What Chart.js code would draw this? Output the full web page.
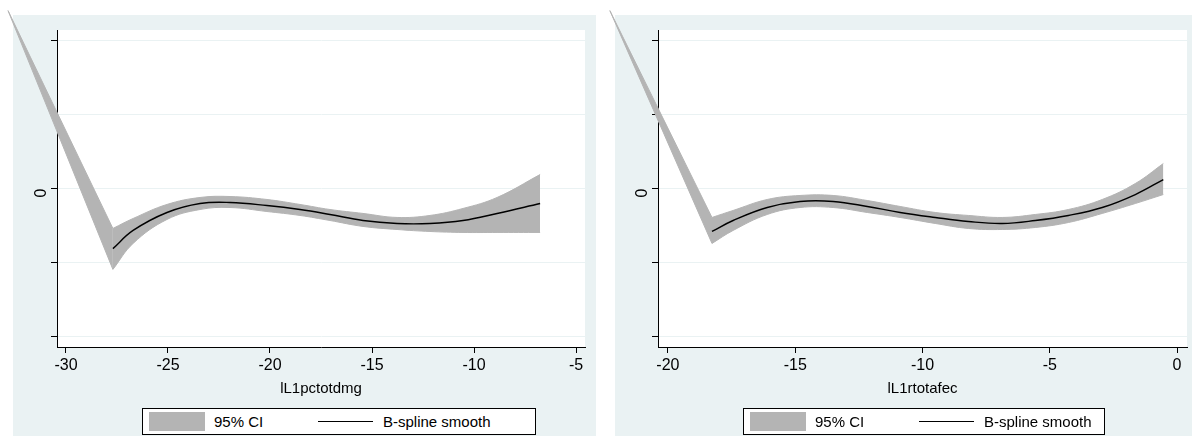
<!DOCTYPE html>
<html lang="en">
<head>
    <meta charset="UTF-8">
    <title>B-spline smooth</title>
    <script src="https://cdn.jsdelivr.net/npm/chart.js"></script>
    <style>
        body { margin: 0; background: #fff; font-family: "Liberation Sans", Arial, sans-serif; }
        #page { position: relative; width: 1192px; height: 436px; overflow: hidden; }
        .panel { position: absolute; top: 15px; height: 421px; background: #eaf2f3; }
        canvas { position: absolute; top: 0; }
        .legend { position: absolute; top: 408px; height: 25px; background: #fff; border: 1px solid #000; font-size: 15px; color: #000; }
        .legend .swatch { position: absolute; left: 6px; top: 3px; width: 56px; height: 19px; background: #b4b4b4; }
        .legend .ln { position: absolute; left: 175px; top: 12px; width: 55px; border-top: 1.5px solid #000; }
        .legend .lbl { position: absolute; top: 4px; line-height: 17px; white-space: nowrap; }
    </style>
</head>
<body>
<div id="page">
    <div class="panel" style="left:13px; width:583px;"></div>
    <div class="panel" style="left:615px; width:577px;"></div>
    <canvas id="leftChart" width="600" height="436" style="left:0;"></canvas>
    <canvas id="rightChart" width="592" height="436" style="left:600px;"></canvas>
    <div class="legend" style="left:142px; width:392px;">
        <span class="swatch"></span><span class="lbl" style="left:71px;">95% CI</span>
        <span class="ln"></span><span class="lbl" style="left:240px;">B-spline smooth</span>
    </div>
    <div class="legend" style="left:743px; width:360px;">
        <span class="swatch"></span><span class="lbl" style="left:71px;">95% CI</span>
        <span class="ln"></span><span class="lbl" style="left:240px;">B-spline smooth</span>
    </div>
</div>

<script>
    // y ticks (only 0 is labelled in the original)
    const yTicks = [-2, -1, 0, 1, 2];

    // left panel: lL1pctotdmg
    const leftXTicks = [-30, -25, -20, -15, -10, -5];
    const leftX     = [-27.70, -26.71, -25.05, -23.43, -21.96, -20.15, -18.53, -17.06, -15.44, -13.77, -12.16, -10.54, -8.87, -6.76];
    const leftFit   = [-0.810, -0.565, -0.323, -0.202, -0.188, -0.229, -0.283, -0.350, -0.431, -0.471, -0.471, -0.431, -0.336, -0.202];
    const leftUpper = [-0.538, -0.404, -0.215, -0.121, -0.108, -0.148, -0.215, -0.283, -0.336, -0.390, -0.363, -0.269, -0.121, 0.188];
    const leftLower = [-1.090, -0.740, -0.417, -0.283, -0.256, -0.310, -0.363, -0.431, -0.511, -0.552, -0.579, -0.592, -0.592, -0.592];
    const leftTail  = [-32.84, 2.396];   // where the CI wedge starts (x, y)

    // right panel: lL1rtotafec
    const rightXTicks = [-20, -15, -10, -5, 0];
    const rightX     = [-18.27, -17.44, -16.10, -14.81, -13.51, -12.17, -10.88, -9.50, -8.20, -6.87, -5.57, -4.27, -2.94, -1.64, -0.54];
    const rightFit   = [-0.579, -0.431, -0.256, -0.175, -0.175, -0.242, -0.323, -0.390, -0.444, -0.471, -0.431, -0.363, -0.256, -0.081, 0.121];
    const rightUpper = [-0.390, -0.296, -0.148, -0.094, -0.094, -0.162, -0.242, -0.323, -0.363, -0.390, -0.350, -0.283, -0.148, 0.067, 0.336];
    const rightLower = [-0.740, -0.565, -0.350, -0.256, -0.256, -0.323, -0.390, -0.471, -0.538, -0.552, -0.525, -0.458, -0.336, -0.202, -0.081];
    const rightTail  = [-22.28, 2.396];

    const CI_GRAY = "#b4b4b4";

    Chart.defaults.font.family = "'Liberation Sans', Arial, sans-serif";
    Chart.defaults.font.size = 16;
    Chart.defaults.color = "#000";

    // white plot region behind the data
    const plotRegion = {
        id: "plotRegion",
        beforeDraw(chart) {
            const a = chart.chartArea;
            chart.ctx.save();
            chart.ctx.fillStyle = "#fff";
            chart.ctx.fillRect(a.left, a.top, a.right - a.left, a.bottom - a.top);
            chart.ctx.restore();
        }
    };

    // the CI wedge runs outside the plot region, like stata draws it,
    // so let the filler use the whole canvas while datasets are drawn
    const looseFill = {
        id: "looseFill",
        beforeDatasetsDraw(chart) {
            chart.$savedArea = chart.chartArea;
            chart.chartArea = { left: 0, top: 0, right: chart.width, bottom: chart.height, width: chart.width, height: chart.height };
        },
        afterDatasetsDraw(chart) {
            chart.chartArea = chart.$savedArea;
        }
    };

    function pts(xs, ys) {
        return xs.map((x, i) => ({ x: x, y: ys[i] }));
    }

    function makeChart(id, cfg) {
        const area = (color) => ({
            borderColor: color, backgroundColor: color, borderWidth: 1,
            pointRadius: 0, clip: false, order: 2
        });
        new Chart(document.getElementById(id), {
            type: "line",
            data: {
                datasets: [
                    Object.assign({ data: [{ x: cfg.tail[0], y: cfg.tail[1] }, { x: cfg.x[0], y: cfg.upper[0] }], fill: "+1", tension: 0 }, area(CI_GRAY)),
                    Object.assign({ data: [{ x: cfg.tail[0], y: cfg.tail[1] }, { x: cfg.x[0], y: cfg.lower[0] }], fill: false, tension: 0 }, area(CI_GRAY)),
                    Object.assign({ data: pts(cfg.x, cfg.upper), fill: "+1", tension: 0.4 }, area(CI_GRAY)),
                    Object.assign({ data: pts(cfg.x, cfg.lower), fill: false, tension: 0.4 }, area(CI_GRAY)),
                    {
                        data: pts(cfg.x, cfg.fit), borderColor: "#000", borderWidth: 1.4,
                        pointRadius: 0, fill: false, tension: 0.4, clip: false, order: 1
                    }
                ]
            },
            options: {
                responsive: false,
                devicePixelRatio: 1,
                animation: false,
                layout: { padding: cfg.padding },
                plugins: { legend: { display: false }, tooltip: { enabled: false } },
                scales: {
                    x: {
                        type: "linear",
                        min: cfg.xMin, max: cfg.xMax,
                        afterBuildTicks: s => { s.ticks = cfg.xTicks.map(v => ({ value: v })); },
                        afterFit: s => { s.height = 89; },
                        grid: { drawOnChartArea: false, tickLength: 6, tickColor: "#000" },
                        border: { color: "#000", width: 1 },
                        ticks: { padding: 3, maxRotation: 0, autoSkip: false, color: "#000" },
                        title: { display: true, text: cfg.title, color: "#000", font: { size: 15 }, padding: { top: 0, bottom: 38 } }
                    },
                    y: {
                        min: -2.135, max: 2.135,
                        afterBuildTicks: s => { s.ticks = yTicks.map(v => ({ value: v })); },
                        afterFit: s => { s.width = cfg.yWidth; },
                        grid: { color: "#eaf2f3", tickLength: 6, tickColor: "#000" },
                        border: { color: "#000", width: 1 },
                        ticks: {
                            callback: v => (v === 0 ? "0" : ""),
                            minRotation: 90, maxRotation: 90,
                            padding: 9, color: "#000"
                        }
                    }
                }
            },
            plugins: [plotRegion, looseFill]
        });
    }

    makeChart("leftChart", {
        x: leftX, fit: leftFit, upper: leftUpper, lower: leftLower, tail: leftTail,
        xTicks: leftXTicks, xMin: -30.44, xMax: -4.56, title: "lL1pctotdmg",
        padding: { left: 13, top: 30, right: 15, bottom: 0 }, yWidth: 44
    });

    makeChart("rightChart", {
        x: rightX, fit: rightFit, upper: rightUpper, lower: rightLower, tail: rightTail,
        xTicks: rightXTicks, xMin: -20.39, xMax: 0.39, title: "lL1rtotafec",
        padding: { left: 15, top: 30, right: 5, bottom: 0 }, yWidth: 43
    });
</script>
</body>
</html>
